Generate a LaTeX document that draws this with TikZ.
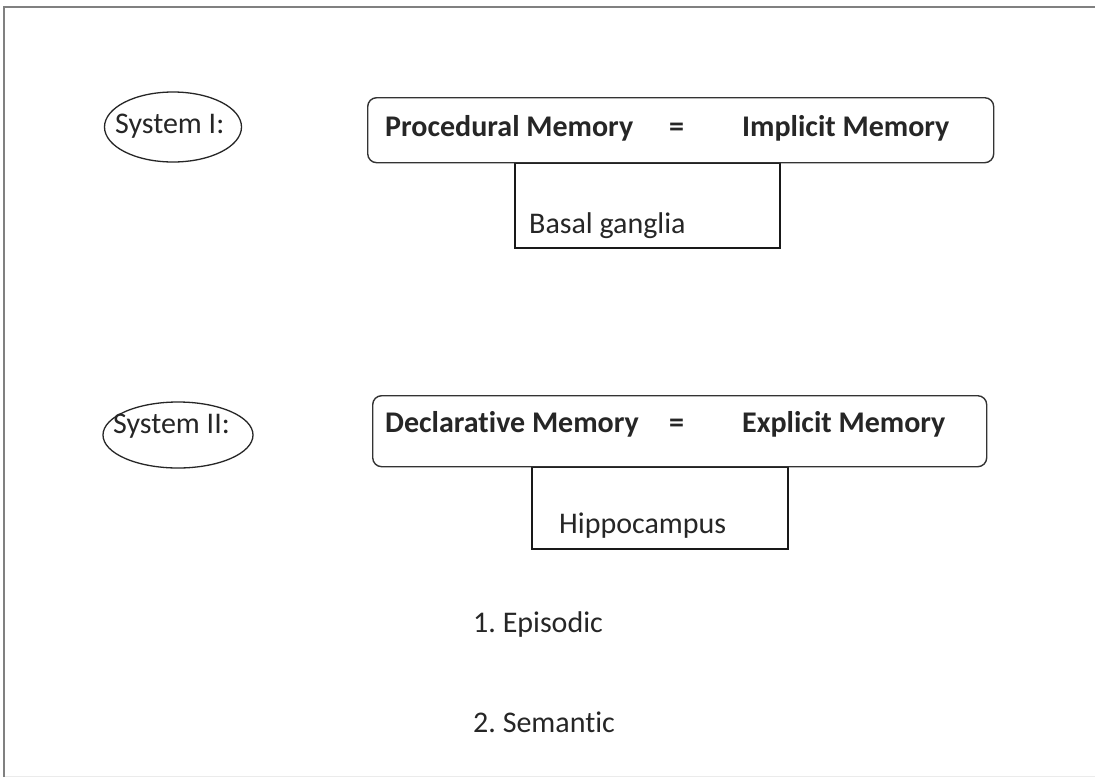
\documentclass[tikz,border=0pt]{standalone}
\usepackage{fontspec}
\setmainfont[Ligatures={NoCommon}]{Carlito}
\frenchspacing
\usetikzlibrary{shapes.geometric}

\begin{document}
\begin{tikzpicture}[x=1pt, y=-1pt,
  memrow/.style={draw=black!80, line width=1.4pt, rounded corners=9pt, inner sep=0pt, anchor=north west},
  areabox/.style={draw=black!90, line width=1.6pt, inner sep=0pt, anchor=north west},
  sysoval/.style={draw=black!85, line width=1.3pt, ellipse, inner sep=0pt},
  txt/.style={font=\fontsize{30}{36}\selectfont, text=black!85, inner sep=0pt, anchor=base west},
  btxt/.style={txt, font=\fontsize{30}{36}\selectfont\bfseries}]
  \useasboundingbox[fill=white] (0,0) rectangle (1095,777);
  \draw[black!50, line width=2pt] (4,777) -- (4,7) -- (1095,7);
  \draw[black!8, line width=1pt] (5,776) -- (1095,776);
  \node[sysoval, minimum width=137pt, minimum height=70pt] (sysone) at (173,127) {};
  \node[txt] (sysonetxt) at (115,133) {System I:};
  \node[sysoval, minimum width=150pt, minimum height=66pt] (systwo) at (178,435) {};
  \node[txt] (systwotxt) at (113,433) {System II:};
  \node[areabox, minimum width=265pt, minimum height=85pt] (basal) at (514,162) {};
  \node[memrow, minimum width=626pt, minimum height=65pt] (procrow) at (367,97) {};
  \node[btxt] (proc) at (385,136) {Procedural Memory};
  \node[btxt] (proceq) at (669,136) {=};
  \node[btxt] (impl) at (742,136) {Implicit Memory};
  \node[txt] (basaltxt) at (529,233) {Basal ganglia};
  \node[areabox, minimum width=256pt, minimum height=82pt] (hippo) at (531,466) {};
  \node[memrow, minimum width=614pt, minimum height=71pt] (declrow) at (372,395) {};
  \node[btxt] (decl) at (385,432) {Declarative Memory};
  \node[btxt] (decleq) at (669,432) {=};
  \node[btxt] (expl) at (742,432) {Explicit Memory};
  \node[txt] (hippotxt) at (559,533) {Hippocampus};
  \node[txt] (episodic) at (473,632) {1. Episodic};
  \node[txt] (semantic) at (473,732) {2. Semantic};
\end{tikzpicture}
\end{document}
